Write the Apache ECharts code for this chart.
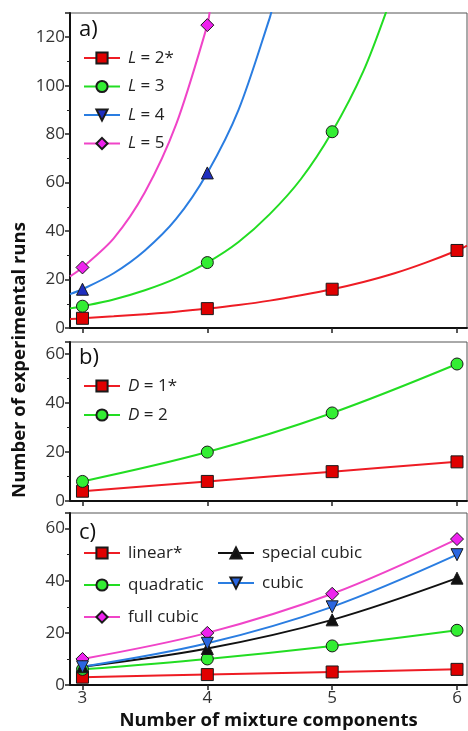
<!DOCTYPE html>
<html>
<head>
<meta charset="utf-8">
<script src="https://cdn.jsdelivr.net/npm/echarts@6/dist/echarts.min.js"></script>
<style>
  html, body { margin: 0; padding: 0; background: #fff; }
  #chart { width: 468px; height: 731px; }
</style>
</head>
<body>
<div id="chart"></div>
<script>
// x ticks (number of mixture components)
const xTicks = [3, 4, 5, 6];

// panel a) levels L; in-between points (no markers there)
const aL2 = [[2.9, 3.7], [3, 4], [3.25, 4.8], [3.5, 5.7], [3.75, 6.7], [4, 8], [4.25, 9.5], [4.5, 11.3],
             [4.75, 13.5], [5, 16], [5.25, 19], [5.5, 22.6], [5.75, 27], [6, 32], [6.08, 34]];
const aL3 = [[2.9, 8.1], [3, 9], [3.25, 11.8], [3.5, 15.6], [3.75, 20.5], [4, 27], [4.25, 35.5],
             [4.5, 47], [4.75, 61.5], [5, 81], [5.25, 106], [5.45, 133]];
const aL4 = [[2.9, 14], [3, 16], [3.25, 22.6], [3.5, 32], [3.75, 45], [4, 64], [4.25, 90],
             [4.5, 128], [4.52, 132]];
const aL5 = [[2.9, 21.3], [3, 25], [3.25, 37], [3.5, 56], [3.75, 84], [4, 125], [4.02, 131]];

// panel b) degree D
const bD1 = [4, 8, 12, 16];
const bD2 = [8, 20, 36, 56];

// panel c) model type
const cLinear = [3, 4, 5, 6];
const cQuad = [6, 10, 15, 21];
const cFull = [10, 20, 35, 56];
const cSpecial = [7, 14, 25, 41];
const cCubic = [7, 16, 30, 50];

const yMax = [130, 65, 66];
const FONT = '"Open Sans", "Noto Sans", sans-serif';

const RED = '#ee1c24', RED_F = '#e00000';
const GREEN = '#22dd22', GREEN_F = '#33ee33';
const BLUE = '#2a7de1', BLUE_F = '#1f2fbf', BLUE_F2 = '#2a66e0';
const MAG = '#f044c8', MAG_F = '#ee22ee';
const BLACK = '#111111';

function pts(arr) {
    return arr.map(p => xTicks.includes(p[0]) ? p : { value: p, symbol: 'none' });
}

function pairs(vals) {
    return vals.map((v, i) => [xTicks[i], v]);
}

function line(name, data, gi, color, fill, symbol, size, rot, smooth) {
    return {
        type: 'line', name: name,
        xAxisIndex: gi, yAxisIndex: gi,
        data: data,
        smooth: smooth || 0.35,
        symbol: symbol, symbolSize: size, symbolRotate: rot || 0,
        lineStyle: { color: color, width: 2 },
        itemStyle: { color: fill, borderColor: '#1a1a1a', borderWidth: 1 },
        clip: true,
        animation: false,
    };
}

const grids = [
    { left: 70, right: 1, top: 13, height: 315 },
    { left: 70, right: 1, top: 342, height: 159 },
    { left: 70, right: 1, top: 513, height: 174 },
].map(g => Object.assign(g, { show: true, borderColor: '#555', borderWidth: 1 }));

const xAxes = [0, 1, 2].map(i => ({
    type: 'value', gridIndex: i, min: 2.9, max: 6.08,
    axisLine: { show: true, lineStyle: { color: BLACK, width: 2 } },
    axisTick: { show: true, inside: false, length: 5, customValues: xTicks,
        lineStyle: { color: '#222', width: 1.5 } },
    axisLabel: { show: i === 2, customValues: xTicks, fontSize: 17, color: '#333',
        fontFamily: FONT, margin: 5 },
    splitLine: { show: false },
    name: i === 2 ? 'Number of mixture components' : '',
    nameLocation: 'middle', nameGap: 26,
    nameTextStyle: { fontSize: 18.5, fontWeight: 'bold', color: '#111', fontFamily: FONT },
}));

const yAxes = [0, 1, 2].map(i => ({
    type: 'value', gridIndex: i, min: 0, max: yMax[i], interval: 20,
    axisLine: { show: true, lineStyle: { color: BLACK, width: 2 } },
    axisTick: { show: true, length: 5, lineStyle: { color: '#222', width: 1.5 } },
    minorTick: { show: true, splitNumber: 2, length: 3, lineStyle: { color: '#222', width: 1 } },
    axisLabel: { fontSize: 17, color: '#333', fontFamily: FONT, margin: 5, showMaxLabel: false },
    splitLine: { show: false },
}));

const legendText = {
    fontFamily: FONT, fontSize: 17, color: '#222', lineHeight: 18, padding: [0, 0, 0, 3],
    rich: { i: { fontStyle: 'italic', fontFamily: FONT, fontSize: 17, color: '#222' } },
};
const italicFmt = name => name.replace(/^([LD])/, '{i|$1}');

function legend(data, left, top, gap, fmt) {
    return {
        data: data, orient: 'vertical', left: left, top: top,
        itemWidth: 36, itemHeight: 14, itemGap: gap, padding: 0,
        selectedMode: false, textStyle: legendText,
        formatter: fmt || (n => n),
    };
}

const option = {
    backgroundColor: '#fff',
    animation: false,
    grid: grids,
    xAxis: xAxes,
    yAxis: yAxes,
    legend: [
        legend(['L = 2*', 'L = 3', { name: 'L = 4', symbolRotate: 180 }, 'L = 5'], 83, 49, 10.5, italicFmt),
        legend(['D = 1*', 'D = 2'], 83, 377, 11, italicFmt),
        legend(['linear*', 'quadratic', 'full cubic'], 83, 544, 14),
        legend(['special cubic', 'cubic'], 217, 544, 12),
    ],
    graphic: [
        { type: 'text', x: 20, y: 360, rotation: Math.PI / 2,
          style: { text: 'Number of experimental runs', font: 'bold 18.5px ' + FONT,
                   fill: '#111', align: 'center', verticalAlign: 'middle' } },
        { type: 'text', left: 79, top: 19, style: { text: 'a)', font: '22px ' + FONT, fill: '#111' } },
        { type: 'text', left: 79, top: 347, style: { text: 'b)', font: '22px ' + FONT, fill: '#111' } },
        { type: 'text', left: 79, top: 522, style: { text: 'c)', font: '22px ' + FONT, fill: '#111' } },
    ],
    series: [
        line('L = 2*', pts(aL2), 0, RED, RED_F, 'rect', 12, 0, 0.3),
        line('L = 3', pts(aL3), 0, GREEN, GREEN_F, 'circle', 12, 0, 0.3),
        line('L = 4', pts(aL4), 0, BLUE, BLUE_F, 'triangle', 12, 0, 0.3),
        line('L = 5', pts(aL5), 0, MAG, MAG_F, 'diamond', 13, 0, 0.3),

        line('D = 1*', pairs(bD1), 1, RED, RED_F, 'rect', 12),
        line('D = 2', pairs(bD2), 1, GREEN, GREEN_F, 'circle', 12),

        line('linear*', pairs(cLinear), 2, RED, RED_F, 'rect', 12),
        line('quadratic', pairs(cQuad), 2, GREEN, GREEN_F, 'circle', 12),
        line('full cubic', pairs(cFull), 2, MAG, MAG_F, 'diamond', 13),
        line('special cubic', pairs(cSpecial), 2, BLACK, BLACK, 'triangle', 12),
        line('cubic', pairs(cCubic), 2, BLUE, BLUE_F2, 'triangle', 12, 180),
    ],
};

const chart = echarts.init(document.getElementById('chart'));
chart.setOption(option);
</script>
</body>
</html>
